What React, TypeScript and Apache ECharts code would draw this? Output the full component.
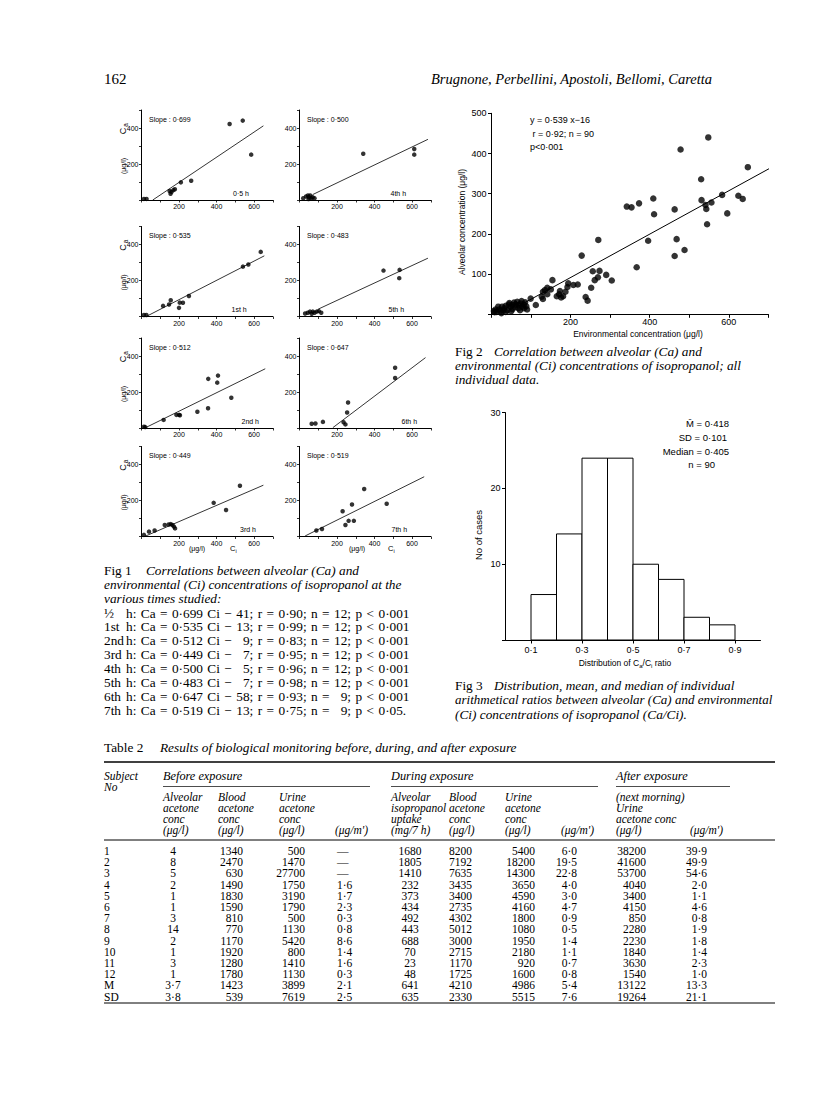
import React, { useEffect, useRef } from 'react';
import * as echarts from 'echarts';

const SANS = '"Liberation Sans", Arial, sans-serif';
const SERIF = '"Liberation Serif", "Times New Roman", serif';

// ---------- Fig 1 data ----------
const hourLabels = ['0·5 h', '1st h', '2nd h', '3rd h', '4th h', '5th h', '6th h', '7th h'];
const slopeLabels = ['0·699', '0·535', '0·512', '0·449', '0·500', '0·483', '0·647', '0·519'];
const pts05h = [[13, 6], [27, 6], [150, 50], [155, 35], [160, 45], [170, 55], [178, 60], [210, 98], [265, 107], [470, 422], [540, 441], [585, 252]];
const pts1h = [[13, 8], [26, 8], [115, 59], [147, 67], [156, 90], [200, 48], [204, 77], [221, 76], [253, 114], [541, 277], [570, 289], [636, 359]];
const pts2h = [[13, 7], [20, 5], [118, 45], [186, 73], [200, 73], [205, 71], [298, 90], [355, 110], [356, 273], [408, 291], [404, 252], [479, 168]];
const pts3h = [[13, 9], [40, 27], [70, 33], [124, 64], [145, 67], [156, 69], [165, 64], [173, 55], [179, 45], [385, 187], [451, 147], [525, 282]];
const pts4h = [[20, 10], [35, 20], [45, 25], [50, 15], [57, 25], [62, 10], [70, 15], [80, 10], [48, 5], [340, 257], [612, 283], [612, 252]];
const pts5h = [[30, 17], [44, 21], [56, 27], [65, 15], [71, 27], [80, 21], [92, 27], [103, 30], [116, 21], [448, 255], [534, 259], [532, 213]];
const pts6h = [[65, 24], [85, 25], [125, 34], [235, 32], [245, 20], [254, 86], [259, 142], [510, 335], [510, 278]];
const pts7h = [[90, 33], [120, 42], [230, 140], [245, 64], [262, 87], [290, 87], [280, 178], [345, 264], [465, 182]];
const panelPoints = [pts05h, pts1h, pts2h, pts3h, pts4h, pts5h, pts6h, pts7h];
// regression lines (end points)
const panelLines = [
  [[60, 0], [650, 412]],
  [[25, 0], [655, 337]],
  [[18, 0], [660, 329]],
  [[16, 0], [650, 285]],
  [[70, 30], [685, 337]],
  [[100, 41], [685, 324]],
  [[178, 2], [672, 391]],
  [[30, 3], [665, 332]],
];
const fig1XLabels = [200, 400, 600];
const fig1YLabels = [200, 400];

// Fig 1 caption equations
const eqHours = ['½', '1st', '2nd', '3rd', '4th', '5th', '6th', '7th'];
const eqSlopes = ['0·699', '0·535', '0·512', '0·449', '0·500', '0·483', '0·647', '0·519'];
const eqIntercepts = [41, 13, 9, 7, 5, 7, 58, 13];
const eqR = ['0·90', '0·99', '0·83', '0·95', '0·96', '0·98', '0·93', '0·75'];
const eqN = [12, 12, 12, 12, 12, 12, 9, 9];
const eqP = ['p < 0·001', 'p < 0·001', 'p < 0·001', 'p < 0·001', 'p < 0·001', 'p < 0·001', 'p < 0·001', 'p < 0·05.'];

// ---------- Fig 2 data ----------
const allPoints = [
  [548, 440], [478, 410], [648, 366], [530, 336], [409, 288], [373, 276], [342, 268], [354, 266], [411, 249], [463, 261],
  [531, 284], [541, 272], [543, 262], [556, 278], [583, 297], [624, 295], [635, 287], [596, 251], [545, 224], [396, 183],
  [468, 187], [463, 145], [488, 160], [367, 117], [270, 185], [228, 146], [256, 107], [273, 108], [290, 98], [304, 84],
  [261, 85], [269, 92], [252, 66], [238, 43], [243, 34], [218, 74], [207, 73], [154, 85],
  [112, 23], [99, 39], [127, 44], [130, 56], [135, 60], [141, 66], [130, 38], [141, 50], [171, 50], [173, 58],
  [176, 42], [181, 45], [187, 56], [192, 68], [194, 77], [165, 45], [150, 62],
  [6, 8], [13, 6], [19, 12], [23, 8], [27, 19], [32, 15], [36, 21], [40, 10], [48, 19], [53, 23],
  [57, 29], [61, 25], [65, 31], [69, 23], [74, 27], [78, 19], [82, 15], [82, 24], [76, 33], [44, 24],
  [17, 19], [8, 5], [36, 6], [53, 13], [68, 15], [88, 20], [90, 12], [25, 3], [45, 28], [60, 18],
  [10, 12], [30, 10], [50, 8], [72, 10], [85, 30],
];
const fig2Line = [[60, 16], [705, 364]];
const fig2XLabels = [200, 400, 600];
const fig2Notes = ['y = 0·539 x−16', ' r = 0·92; n = 90', 'p<0·001'];

// ---------- Fig 3 data ----------
const binLeft = [0.1, 0.2, 0.3, 0.4, 0.5, 0.6, 0.7, 0.8];
const binRight = [0.2, 0.3, 0.4, 0.5, 0.6, 0.7, 0.8, 0.9];
const binCount = [6, 14, 24, 24, 10, 8, 3, 2];
const fig3XTicks = [0.1, 0.3, 0.5, 0.7, 0.9];
const fig3Notes = ['M\u0304 = 0·418', 'SD = 0·101', 'Median = 0·405', 'n = 90'];

// ---------- Table 2 data ----------
const subjectNo = ['1', '2', '3', '4', '5', '6', '7', '8', '9', '10', '11', '12', 'M', 'SD'];
const alvAcetoneBefore = ['4', '8', '5', '2', '1', '1', '3', '14', '2', '1', '3', '1', '3·7', '3·8'];
const bloodAcetoneBefore = ['1340', '2470', '630', '1490', '1830', '1590', '810', '770', '1170', '1920', '1280', '1780', '1423', '539'];
const urineAcetoneBefore = ['500', '1470', '27700', '1750', '3190', '1790', '500', '1130', '5420', '800', '1410', '1130', '3899', '7619'];
const urineCreatBefore = ['—', '—', '—', '1·6', '1·7', '2·3', '0·3', '0·8', '8·6', '1·4', '1·6', '0·3', '2·1', '2·5'];
const isoUptake = ['1680', '1805', '1410', '232', '373', '434', '492', '443', '688', '70', '23', '48', '641', '635'];
const bloodAcetoneDuring = ['8200', '7192', '7635', '3435', '3400', '2735', '4302', '5012', '3000', '2715', '1170', '1725', '4210', '2330'];
const urineAcetoneDuring = ['5400', '18200', '14300', '3650', '4590', '4160', '1800', '1080', '1950', '2180', '920', '1600', '4986', '5515'];
const urineCreatDuring = ['6·0', '19·5', '22·8', '4·0', '3·0', '4·7', '0·9', '0·5', '1·4', '1·1', '0·7', '0·8', '5·4', '7·6'];
const urineAcetoneAfter = ['38200', '41600', '53700', '4040', '3400', '4150', '850', '2280', '2230', '1840', '3630', '1540', '13122', '19264'];
const urineCreatAfter = ['39·9', '49·9', '54·6', '2·0', '1·1', '4·6', '0·8', '1·9', '1·8', '1·4', '2·3', '1·0', '13·3', '21·1'];
const groupHeads = ['Before exposure', 'During exposure', 'After exposure'];
const colHeads = [
  ['Alveolar', 'acetone', 'conc', '(μg/l)'],
  ['Blood', 'acetone', 'conc', '(μg/l)'],
  ['Urine', 'acetone', 'conc', '(μg/l)'],
  ['', '', '', "(μg/m')"],
  ['Alveolar', 'isopropanol', 'uptake', '(mg/7 h)'],
  ['Blood', 'acetone', 'conc', '(μg/l)'],
  ['Urine', 'acetone', 'conc', '(μg/l)'],
  ['', '', '', "(μg/m')"],
  ['(next morning)', 'Urine', 'acetone conc', '(μg/l)'],
  ['', '', '', "(μg/m')"],
];

// ---------- layout ----------
const F1_COLX = [141.5, 299.5];
const F1_ROWTOP = [110, 226.5, 338, 446.5];
const F1_W = 131.25;
const F1_H = 90;
const F1_HOURDX = [91.5, 90, 100, 98.5, 91, 89, 102, 92];
const SP = '\u2004';

const T = (text: string, x: number, y: number, o: any = {}) => ({
  type: 'text',
  x,
  y,
  rotation: o.rot || 0,
  silent: true,
  style: {
    text,
    fill: '#000',
    fontSize: o.size || 12,
    fontFamily: o.font || SERIF,
    fontStyle: o.italic ? 'italic' : 'normal',
    textAlign: o.align || 'left',
    align: o.align || 'left',
    textVerticalAlign: 'middle',
    verticalAlign: 'middle',
    rich: o.rich,
  },
});
const L = (x1: number, y1: number, x2: number, y2: number, w = 1) => ({
  type: 'line',
  silent: true,
  shape: { x1, y1, x2, y2 },
  style: { stroke: '#000', lineWidth: w },
});

const axisLineStyle = { show: true, onZero: false, lineStyle: { color: '#000', width: 1 } };

function buildOption() {
  const grid: any[] = [];
  const xAxis: any[] = [];
  const yAxis: any[] = [];
  const series: any[] = [];
  const graphic: any[] = [];

  // Fig 1 panels
  for (let i = 0; i < 8; i++) {
    const col = i < 4 ? 0 : 1;
    const row = i % 4;
    const left = F1_COLX[col];
    const top = F1_ROWTOP[row];
    grid.push({ left, top, width: F1_W, height: F1_H });
    xAxis.push({
      gridIndex: i, type: 'value', min: 0, max: 700, interval: 100,
      axisLine: axisLineStyle,
      axisTick: { show: true, length: 2.5, lineStyle: { color: '#000', width: 0.8 } },
      axisLabel: {
        show: true, fontSize: 7, fontFamily: SANS, color: '#000', margin: 3,
        formatter: (v: number) => (fig1XLabels.includes(Math.round(v)) ? String(Math.round(v)) : ''),
      },
      splitLine: { show: false },
    });
    yAxis.push({
      gridIndex: i, type: 'value', min: 0, max: 500, interval: 100,
      axisLine: axisLineStyle,
      axisTick: { show: true, length: 2.5, lineStyle: { color: '#000', width: 0.8 } },
      axisLabel: {
        show: true, fontSize: 7, fontFamily: SANS, color: '#000', margin: 3,
        formatter: (v: number) => (fig1YLabels.includes(Math.round(v)) ? String(Math.round(v)) : ''),
      },
      splitLine: { show: false },
    });
    series.push({
      type: 'scatter', xAxisIndex: i, yAxisIndex: i, data: panelPoints[i], symbolSize: 4.5,
      itemStyle: { color: '#000' }, silent: true,
    });
    series.push({
      type: 'line', xAxisIndex: i, yAxisIndex: i, data: panelLines[i], symbol: 'none', showSymbol: false,
      lineStyle: { color: '#000', width: 0.8 }, silent: true,
    });
    graphic.push(T('Slope : ' + slopeLabels[i], left + 7.5, top + 9, { size: 7, font: SANS }));
    graphic.push(T(hourLabels[i], left + F1_HOURDX[i], top + F1_H - 7, { size: 7, font: SANS }));
    if (col === 0) {
      graphic.push(T('C', 123, top + 21, { size: 9, font: SANS, rot: Math.PI / 2, align: 'center' }));
      graphic.push(T('a', 125.5, top + 15, { size: 6.5, font: SANS, rot: Math.PI / 2, align: 'center' }));
      graphic.push(T('(μg/l)', 123, top + 56, { size: 7, font: SANS, rot: Math.PI / 2, align: 'center' }));
    }
    if (row === 3) {
      const cx = col === 0 ? 197 : 357;
      const ci = col === 0 ? 230 : 388;
      graphic.push(T('(μg/l)', cx, 548, { size: 7, font: SANS, align: 'center' }));
      graphic.push(T('C', ci, 548, { size: 7.5, font: SANS }));
      graphic.push(T('i', ci + 5.5, 550.5, { size: 5.5, font: SANS }));
    }
  }

  // Fig 2
  grid.push({ left: 491.5, top: 113.3, width: 276.9, height: 201 });
  xAxis.push({
    gridIndex: 8, type: 'value', min: 0, max: 700, interval: 100,
    axisLine: axisLineStyle,
    axisTick: { show: true, length: 3.5, lineStyle: { color: '#000', width: 1 } },
    axisLabel: {
      show: true, fontSize: 9, fontFamily: SANS, color: '#000', margin: 3,
      formatter: (v: number) => (fig2XLabels.includes(Math.round(v)) ? String(Math.round(v)) : ''),
    },
    splitLine: { show: false },
  });
  yAxis.push({
    gridIndex: 8, type: 'value', min: 0, max: 500, interval: 100,
    axisLine: axisLineStyle,
    axisTick: { show: true, length: 3.5, lineStyle: { color: '#000', width: 1 } },
    axisLabel: {
      show: true, fontSize: 9, fontFamily: SANS, color: '#000', margin: 5,
      formatter: (v: number) => (v > 0 ? String(Math.round(v)) : ''),
    },
    splitLine: { show: false },
  });
  series.push({
    type: 'scatter', xAxisIndex: 8, yAxisIndex: 8, data: allPoints, symbolSize: 6.5,
    itemStyle: { color: '#000' }, silent: true,
  });
  series.push({
    type: 'line', xAxisIndex: 8, yAxisIndex: 8, data: fig2Line, symbol: 'none', showSymbol: false,
    lineStyle: { color: '#000', width: 1 }, silent: true,
  });
  fig2Notes.forEach((s, k) => graphic.push(T(s, 530, 120 + k * 13.7, { size: 9, font: SANS })));
  graphic.push(T('Alveolar concentration (μg/l)', 462, 222, { size: 8.5, font: SANS, rot: Math.PI / 2, align: 'center' }));
  graphic.push(T('Environmental concentration (μg/l)', 638, 333.5, { size: 8.5, font: SANS, align: 'center' }));

  // Fig 3
  grid.push({ left: 505.5, top: 412.7, width: 255, height: 227.3 });
  xAxis.push({
    gridIndex: 9, type: 'value', min: 0, max: 1, interval: 0.1,
    axisLine: axisLineStyle,
    axisTick: { show: true, length: 3.5, customValues: fig3XTicks, lineStyle: { color: '#000', width: 1 } },
    axisLabel: {
      show: true, fontSize: 9, fontFamily: SANS, color: '#000', margin: 5, customValues: fig3XTicks,
      formatter: (v: number) => '0·' + Math.round(v * 10),
    },
    splitLine: { show: false },
  });
  yAxis.push({
    gridIndex: 9, type: 'value', min: 0, max: 30, interval: 10,
    axisLine: axisLineStyle,
    axisTick: { show: true, length: 3.5, lineStyle: { color: '#000', width: 1 } },
    axisLabel: {
      show: true, fontSize: 9, fontFamily: SANS, color: '#000', margin: 5,
      formatter: (v: number) => (v > 0 ? String(Math.round(v)) : ''),
    },
    splitLine: { show: false },
  });
  series.push({
    type: 'custom', xAxisIndex: 9, yAxisIndex: 9,
    data: binLeft.map((l, i) => [l, binRight[i], binCount[i]]),
    encode: { x: [0, 1], y: 2 },
    renderItem: (params: any, api: any) => {
      const a = api.coord([api.value(0), api.value(2)]);
      const b = api.coord([api.value(1), 0]);
      return {
        type: 'rect',
        shape: { x: a[0], y: a[1], width: b[0] - a[0], height: b[1] - a[1] },
        style: { fill: '#fff', stroke: '#000', lineWidth: 1 },
      };
    },
    silent: true,
  });
  graphic.push(T(fig3Notes[0], 729, 423, { size: 9.5, font: SANS, align: 'right' }));
  graphic.push(T(fig3Notes[1], 727, 437, { size: 9.5, font: SANS, align: 'right' }));
  graphic.push(T(fig3Notes[2], 729, 451, { size: 9.5, font: SANS, align: 'right' }));
  graphic.push(T(fig3Notes[3], 715, 464.5, { size: 9.5, font: SANS, align: 'right' }));
  graphic.push(T('No of cases', 478, 535, { size: 9.5, font: SANS, rot: Math.PI / 2, align: 'center' }));
  graphic.push(T('{n|Distribution of C}{s|a}{n|/C}{s|i}{n| ratio}', 625, 663, {
    size: 8.5, font: SANS, align: 'center',
    rich: {
      n: { fontSize: 8.5, fontFamily: SANS, lineHeight: 12, fill: '#000' },
      s: { fontSize: 6, fontFamily: SANS, lineHeight: 12, verticalAlign: 'bottom', fill: '#000' },
    },
  }));

  // Page header
  graphic.push(T('162', 104, 79, { size: 15 }));
  graphic.push(T('Brugnone, Perbellini, Apostoli, Bellomi, Caretta', 712, 79, { size: 14.5, italic: true, align: 'right' }));

  // Fig 1 caption
  const CAP = 13.3;
  graphic.push(T('Fig 1', 104, 570, { size: CAP }));
  graphic.push(T('Correlations between alveolar (Ca) and', 146, 570, { size: CAP, italic: true }));
  graphic.push(T('environmental (Ci) concentrations of isopropanol at the', 104, 584, { size: CAP, italic: true }));
  graphic.push(T('various times studied:', 104, 598, { size: CAP, italic: true }));
  eqHours.forEach((h, k) => {
    const y = 613 + k * 13.9;
    const ic = eqIntercepts[k] < 10 ? '\u2007' + eqIntercepts[k] : String(eqIntercepts[k]);
    const nn = eqN[k] < 10 ? '\u2007' + eqN[k] : String(eqN[k]);
    const s = ['h:', 'Ca', '=', eqSlopes[k], 'Ci', '−', ic + ';', 'r', '=', eqR[k] + ';', 'n', '=', nn + ';', eqP[k].replace(/ /g, SP)].join(SP);
    graphic.push(T(h, 104, y, { size: CAP }));
    graphic.push(T(s, 126, y, { size: CAP }));
  });

  // Fig 2 caption
  graphic.push(T('Fig 2', 455, 351, { size: CAP }));
  graphic.push(T('Correlation between alveolar (Ca) and', 494, 351, { size: CAP, italic: true }));
  graphic.push(T('environmental (Ci) concentrations of isopropanol; all', 455, 365, { size: CAP, italic: true }));
  graphic.push(T('individual data.', 455, 379, { size: CAP, italic: true }));

  // Fig 3 caption
  graphic.push(T('Fig 3', 455, 685, { size: CAP }));
  graphic.push(T('Distribution, mean, and median of individual', 494, 685, { size: CAP, italic: true }));
  graphic.push(T('arithmetical ratios between alveolar (Ca) and environmental', 455, 699.5, { size: 13, italic: true }));
  graphic.push(T('(Ci) concentrations of isopropanol (Ca/Ci).', 455, 714, { size: CAP, italic: true }));

  // Table 2
  const TR = 775;
  graphic.push(T('Table 2', 104, 747, { size: 13.3 }));
  graphic.push(T('Results of biological monitoring before, during, and after exposure', 160, 747, { size: 13.3, italic: true }));
  graphic.push(L(104, 762, TR, 762, 1.6));
  graphic.push(T('Subject', 104, 776, { size: 11.5, italic: true }));
  graphic.push(T('No', 104, 787, { size: 11.5, italic: true }));
  const groupX = [163, 391, 616];
  const groupEnd = [370, 598, 730];
  groupHeads.forEach((g, k) => {
    graphic.push(T(g, groupX[k], 776, { size: 12.3, italic: true }));
    graphic.push(L(groupX[k], 786.5, groupEnd[k], 786.5, 0.7));
  });
  const headX = [163, 218, 279, 335, 391, 449, 505, 561, 616, 690];
  colHeads.forEach((lines, c) => {
    lines.forEach((s, r) => {
      if (s) graphic.push(T(s, headX[c], 797 + r * 11, { size: 11.5, italic: true }));
    });
  });
  graphic.push(L(104, 840, TR, 840, 1));
  const cols: [string[], number, string][] = [
    [subjectNo, 104, 'left'],
    [alvAcetoneBefore, 173, 'center'],
    [bloodAcetoneBefore, 243, 'right'],
    [urineAcetoneBefore, 305, 'right'],
    [urineCreatBefore, 337, 'left'],
    [isoUptake, 410, 'center'],
    [bloodAcetoneDuring, 472, 'right'],
    [urineAcetoneDuring, 535, 'right'],
    [urineCreatDuring, 577, 'right'],
    [urineAcetoneAfter, 646, 'right'],
    [urineCreatAfter, 707, 'right'],
  ];
  cols.forEach(([vals, x, align]) => {
    vals.forEach((v, r) => {
      graphic.push(T(v, x, 851 + r * 11.2, { size: 11.5, align }));
    });
  });
  graphic.push(L(104, 1003, TR, 1003, 1));

  return {
    animation: false,
    backgroundColor: '#fff',
    grid,
    xAxis,
    yAxis,
    series,
    graphic,
  };
}

export default function App() {
  const ref = useRef<HTMLDivElement>(null);
  useEffect(() => {
    if (!ref.current) return;
    const chart = echarts.init(ref.current, null, { renderer: 'svg' });
    chart.setOption(buildOption() as any);
    return () => chart.dispose();
  }, []);
  return (
    <div
      ref={ref}
      style={{ position: 'absolute', left: 0, top: 0, width: 816, height: 1107, background: '#fff' }}
    />
  );
}
